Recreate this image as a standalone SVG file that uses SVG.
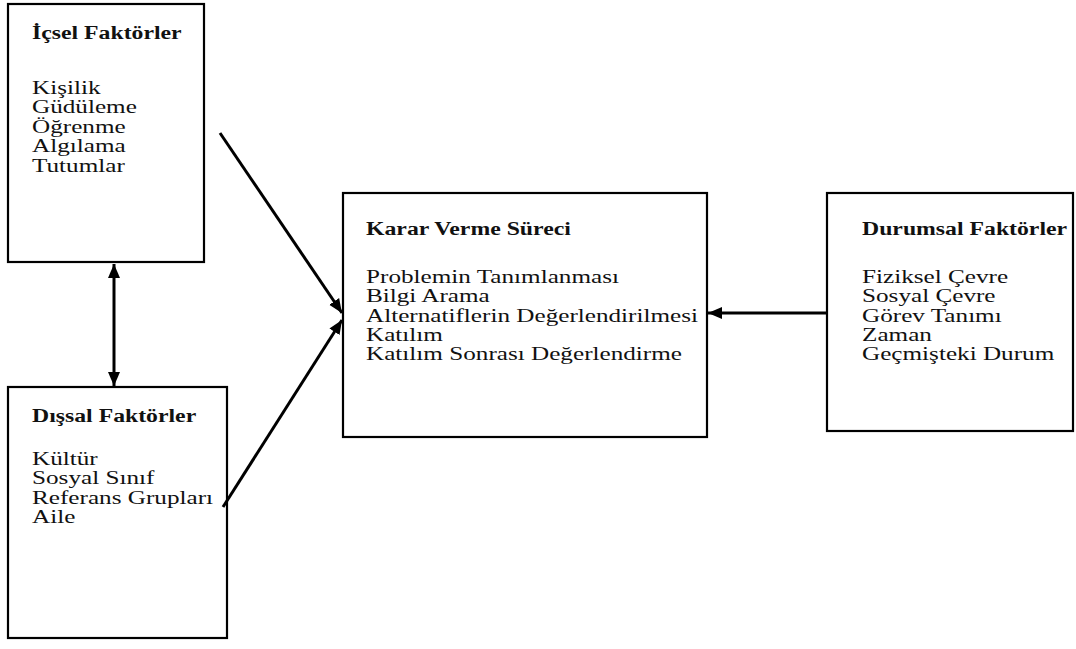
<svg xmlns="http://www.w3.org/2000/svg" width="1076" height="649" viewBox="0 0 1076 649">
<style>
.box{fill:#fff;stroke:#000;stroke-width:2.2}
.t{font-family:"Liberation Serif","Times New Roman",serif;font-size:18px;fill:#111}
.h{font-family:"Liberation Serif","Times New Roman",serif;font-weight:bold;font-size:18px;fill:#111}
.c{stroke:#000;stroke-width:3;fill:none}
</style>
<defs>
<marker id="ah" markerUnits="userSpaceOnUse" markerWidth="16" markerHeight="14" refX="14" refY="6" orient="auto-start-reverse" viewBox="0 0 16 12">
<path d="M0,0 L14,6 L0,12 Z" fill="#000"/>
</marker>
</defs>
<rect width="1076" height="649" fill="#fff"/>
<g id="icsel">
<rect class="box" x="8" y="4" width="196" height="258"/>
<text class="h" transform="translate(32,39) scale(1.32,1)">İçsel Faktörler</text>
<g class="t" transform="translate(32,0) scale(1.4,1)">
<text x="0" y="94">Kişilik</text>
<text x="0" y="113.5">Güdüleme</text>
<text x="0" y="133">Öğrenme</text>
<text x="0" y="152.5">Algılama</text>
<text x="0" y="172">Tutumlar</text>
</g>
</g>
<g id="dissal">
<rect class="box" x="8" y="387" width="219" height="251"/>
<text class="h" transform="translate(32,422) scale(1.32,1)">Dışsal Faktörler</text>
<g class="t" transform="translate(32,0) scale(1.4,1)">
<text x="0" y="465">Kültür</text>
<text x="0" y="484.5">Sosyal Sınıf</text>
<text x="0" y="504">Referans Grupları</text>
<text x="0" y="523.5">Aile</text>
</g>
</g>
<g id="karar">
<rect class="box" x="343" y="193" width="364" height="244"/>
<text class="h" transform="translate(366,235) scale(1.32,1)">Karar Verme Süreci</text>
<g class="t" transform="translate(366,0) scale(1.4,1)">
<text x="0" y="283">Problemin Tanımlanması</text>
<text x="0" y="302.5">Bilgi Arama</text>
<text x="0" y="322">Alternatiflerin Değerlendirilmesi</text>
<text x="0" y="341">Katılım</text>
<text x="0" y="360.5">Katılım Sonrası Değerlendirme</text>
</g>
</g>
<g id="durumsal">
<rect class="box" x="827" y="193" width="246" height="238"/>
<text class="h" transform="translate(862,235) scale(1.32,1)">Durumsal Faktörler</text>
<g class="t" transform="translate(862,0) scale(1.4,1)">
<text x="0" y="283">Fiziksel Çevre</text>
<text x="0" y="302.5">Sosyal Çevre</text>
<text x="0" y="322">Görev Tanımı</text>
<text x="0" y="341">Zaman</text>
<text x="0" y="360.5">Geçmişteki Durum</text>
</g>
</g>
<g id="connectors">
<line class="c" x1="114" y1="264" x2="114" y2="386" marker-start="url(#ah)" marker-end="url(#ah)"/>
<line class="c" x1="220" y1="133" x2="342" y2="313" marker-end="url(#ah)"/>
<line class="c" x1="223" y1="507" x2="342" y2="320" marker-end="url(#ah)"/>
<line class="c" x1="827" y1="313" x2="708" y2="313" marker-end="url(#ah)"/>
</g>
</svg>
